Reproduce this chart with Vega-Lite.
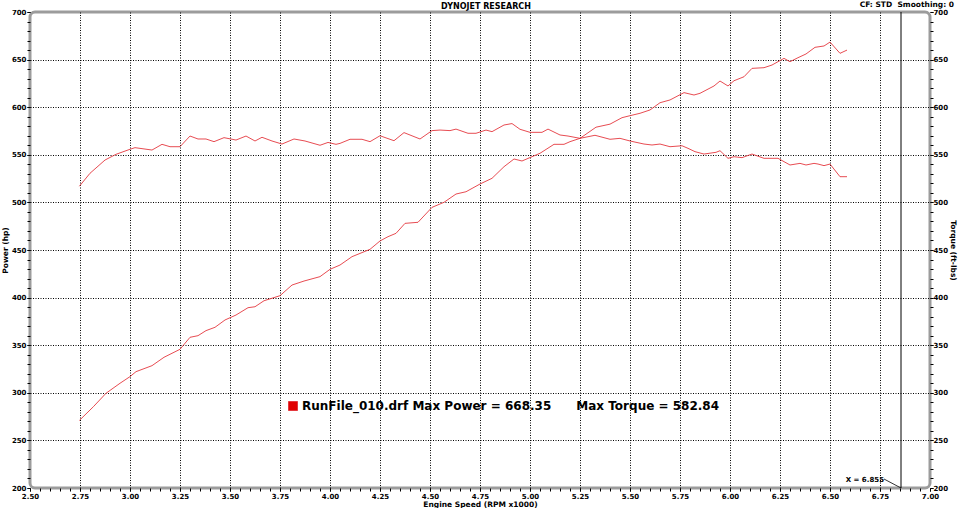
{
  "$schema": "https://vega.github.io/schema/vega-lite/v6.json",
  "width": 900,
  "height": 476,
  "autosize": {"type": "none"},
  "padding": {"left": 30, "top": 12, "right": 30, "bottom": 20},
  "background": "#ffffff",
  "datasets": {
    "power": [
      {"rpm": 2.747, "value": 271}, {"rpm": 2.817, "value": 285.4}, {"rpm": 2.88, "value": 299.5}, {"rpm": 2.95, "value": 310},
      {"rpm": 3.0, "value": 317}, {"rpm": 3.03, "value": 322.2}, {"rpm": 3.11, "value": 328.5}, {"rpm": 3.17, "value": 337.3},
      {"rpm": 3.25, "value": 345.7}, {"rpm": 3.3, "value": 358.3}, {"rpm": 3.34, "value": 360}, {"rpm": 3.38, "value": 365.3},
      {"rpm": 3.425, "value": 368.8}, {"rpm": 3.475, "value": 376.5}, {"rpm": 3.53, "value": 381.7}, {"rpm": 3.59, "value": 389.4},
      {"rpm": 3.625, "value": 390.4}, {"rpm": 3.67, "value": 396.7}, {"rpm": 3.75, "value": 402}, {"rpm": 3.81, "value": 413.2},
      {"rpm": 3.87, "value": 417.4}, {"rpm": 3.95, "value": 422}, {"rpm": 4.0, "value": 429.7}, {"rpm": 4.05, "value": 434.2},
      {"rpm": 4.11, "value": 443}, {"rpm": 4.2, "value": 450.7}, {"rpm": 4.25, "value": 459.5}, {"rpm": 4.29, "value": 464},
      {"rpm": 4.33, "value": 467.5}, {"rpm": 4.375, "value": 478}, {"rpm": 4.44, "value": 479.1}, {"rpm": 4.51, "value": 494.8},
      {"rpm": 4.57, "value": 500.1}, {"rpm": 4.63, "value": 508.8}, {"rpm": 4.68, "value": 511.2}, {"rpm": 4.75, "value": 519.3},
      {"rpm": 4.81, "value": 525.3}, {"rpm": 4.87, "value": 537.5}, {"rpm": 4.92, "value": 545.6}, {"rpm": 4.96, "value": 543.5},
      {"rpm": 5.05, "value": 551.6}, {"rpm": 5.12, "value": 561}, {"rpm": 5.17, "value": 561}, {"rpm": 5.2, "value": 563.8},
      {"rpm": 5.25, "value": 567.3}, {"rpm": 5.33, "value": 579}, {"rpm": 5.4, "value": 582.2}, {"rpm": 5.46, "value": 589},
      {"rpm": 5.5, "value": 591.1}, {"rpm": 5.55, "value": 593.6}, {"rpm": 5.6, "value": 597.1}, {"rpm": 5.65, "value": 604.7},
      {"rpm": 5.7, "value": 607.6}, {"rpm": 5.77, "value": 615.3}, {"rpm": 5.82, "value": 612.8}, {"rpm": 5.85, "value": 614.6},
      {"rpm": 5.92, "value": 622.3}, {"rpm": 5.95, "value": 627.5}, {"rpm": 5.99, "value": 622.3}, {"rpm": 6.02, "value": 627.8},
      {"rpm": 6.07, "value": 632}, {"rpm": 6.11, "value": 640.8}, {"rpm": 6.17, "value": 641.5}, {"rpm": 6.21, "value": 644.3},
      {"rpm": 6.24, "value": 647.8}, {"rpm": 6.27, "value": 651.3}, {"rpm": 6.3, "value": 647.8}, {"rpm": 6.34, "value": 652},
      {"rpm": 6.38, "value": 655.9}, {"rpm": 6.425, "value": 662.9}, {"rpm": 6.47, "value": 664.3}, {"rpm": 6.5, "value": 668.4},
      {"rpm": 6.55, "value": 656.6}, {"rpm": 6.585, "value": 660}
    ],
    "torque": [
      {"rpm": 2.747, "value": 517}, {"rpm": 2.8, "value": 530.6}, {"rpm": 2.875, "value": 544.5}, {"rpm": 2.93, "value": 550.5},
      {"rpm": 3.0, "value": 555.8}, {"rpm": 3.025, "value": 557.5}, {"rpm": 3.11, "value": 555}, {"rpm": 3.16, "value": 561},
      {"rpm": 3.2, "value": 558.5}, {"rpm": 3.25, "value": 558.5}, {"rpm": 3.3, "value": 569.7}, {"rpm": 3.34, "value": 566.6},
      {"rpm": 3.38, "value": 566.6}, {"rpm": 3.42, "value": 563.8}, {"rpm": 3.47, "value": 568}, {"rpm": 3.53, "value": 565.5},
      {"rpm": 3.58, "value": 569.7}, {"rpm": 3.625, "value": 564.5}, {"rpm": 3.66, "value": 568.4}, {"rpm": 3.71, "value": 564.5},
      {"rpm": 3.76, "value": 561.3}, {"rpm": 3.82, "value": 566.6}, {"rpm": 3.875, "value": 564.5}, {"rpm": 3.95, "value": 560},
      {"rpm": 3.99, "value": 563}, {"rpm": 4.03, "value": 561}, {"rpm": 4.05, "value": 562}, {"rpm": 4.1, "value": 566.3},
      {"rpm": 4.16, "value": 566.3}, {"rpm": 4.2, "value": 563.8}, {"rpm": 4.25, "value": 570}, {"rpm": 4.32, "value": 564.8},
      {"rpm": 4.37, "value": 573.3}, {"rpm": 4.45, "value": 566.6}, {"rpm": 4.51, "value": 575.4}, {"rpm": 4.55, "value": 576},
      {"rpm": 4.6, "value": 575.4}, {"rpm": 4.63, "value": 577}, {"rpm": 4.69, "value": 572.6}, {"rpm": 4.73, "value": 572.6},
      {"rpm": 4.78, "value": 576}, {"rpm": 4.81, "value": 574.3}, {"rpm": 4.87, "value": 581.3}, {"rpm": 4.91, "value": 582.8},
      {"rpm": 4.95, "value": 576.8}, {"rpm": 5.0, "value": 573.6}, {"rpm": 5.06, "value": 573.6}, {"rpm": 5.09, "value": 577},
      {"rpm": 5.15, "value": 570.8}, {"rpm": 5.19, "value": 569.7}, {"rpm": 5.25, "value": 567.3}, {"rpm": 5.325, "value": 570.5},
      {"rpm": 5.4, "value": 566.3}, {"rpm": 5.45, "value": 567.3}, {"rpm": 5.5, "value": 564.5}, {"rpm": 5.57, "value": 561.3},
      {"rpm": 5.61, "value": 560.3}, {"rpm": 5.65, "value": 561.3}, {"rpm": 5.7, "value": 558.5}, {"rpm": 5.76, "value": 559.5},
      {"rpm": 5.79, "value": 556.8}, {"rpm": 5.825, "value": 553.3}, {"rpm": 5.87, "value": 550.8}, {"rpm": 5.93, "value": 552.6},
      {"rpm": 5.95, "value": 554.3}, {"rpm": 5.99, "value": 546.3}, {"rpm": 6.02, "value": 548}, {"rpm": 6.06, "value": 547},
      {"rpm": 6.11, "value": 550.8}, {"rpm": 6.17, "value": 546.3}, {"rpm": 6.24, "value": 546.3}, {"rpm": 6.3, "value": 539.3},
      {"rpm": 6.35, "value": 541}, {"rpm": 6.38, "value": 539.3}, {"rpm": 6.42, "value": 541}, {"rpm": 6.44, "value": 540.3},
      {"rpm": 6.47, "value": 538.6}, {"rpm": 6.5, "value": 540.3}, {"rpm": 6.55, "value": 527}, {"rpm": 6.585, "value": 527}
    ],
    "cursor": [{"cursor": 6.855, "label": "X = 6.855"}],
    "header": [{"label": "DYNOJET RESEARCH"}],
    "settings": [{"label": "CF: STD\u00a0\u00a0Smoothing: 0"}]
  },
  "resolve": {"axis": {"x": "independent", "y": "independent"}},
  "layer": [
    {
      "data": {"name": "power"},
      "mark": {"type": "line", "strokeWidth": 0.9},
      "encoding": {
        "x": {
          "field": "rpm", "type": "quantitative",
          "scale": {"domain": [2.5, 7.0], "nice": false, "zero": false},
          "axis": {
            "orient": "bottom",
            "values": [2.5, 2.75, 3, 3.25, 3.5, 3.75, 4, 4.25, 4.5, 4.75, 5, 5.25, 5.5, 5.75, 6, 6.25, 6.5, 6.75, 7],
            "format": ".2f", "title": "Engine Speed (RPM x1000)", "grid": true,
            "gridOpacity": {"condition": {"test": "datum.value <= 2.5 || datum.value >= 7", "value": 0}, "value": 1},
            "labelPadding": 1, "titlePadding": 1, "labelFlush": false, "labelOverlap": false
          }
        },
        "y": {
          "field": "value", "type": "quantitative",
          "scale": {"domain": [200, 700], "nice": false, "zero": false},
          "axis": {
            "orient": "left",
            "values": [200, 250, 300, 350, 400, 450, 500, 550, 600, 650, 700],
            "title": "Power (hp)", "grid": true,
            "gridOpacity": {"condition": {"test": "datum.value <= 200 || datum.value >= 700", "value": 0}, "value": 1},
            "labelPadding": 1, "titlePadding": 2, "labelFlush": false, "labelOverlap": false
          }
        },
        "color": {
          "datum": "RunFile_010.drf Max Power = 668.35\u00a0\u00a0\u00a0\u00a0\u00a0 Max Torque = 582.84",
          "scale": {"range": ["#e4383e"]},
          "legend": {
            "orient": "none", "legendX": 257, "legendY": 388, "title": null, "padding": 0,
            "symbolType": "square", "symbolSize": 81, "symbolFillColor": "#e00000",
            "symbolStrokeColor": "#8a0000", "symbolStrokeWidth": 1, "symbolOpacity": 1,
            "labelFont": "DejaVu Sans", "labelFontSize": 12, "labelFontWeight": "bold",
            "labelColor": "#000000", "labelLimit": 0, "labelOffset": 3
          }
        }
      }
    },
    {
      "data": {"name": "torque"},
      "mark": {"type": "line", "strokeWidth": 0.9},
      "encoding": {
        "x": {"field": "rpm", "type": "quantitative", "axis": null},
        "y": {
          "field": "value", "type": "quantitative",
          "axis": {
            "orient": "right",
            "values": [200, 250, 300, 350, 400, 450, 500, 550, 600, 650, 700],
            "title": "Torque (ft-lbs)", "grid": false,
            "labelPadding": 0, "titlePadding": 1, "labelFlush": false, "labelOverlap": false
          }
        },
        "color": {"datum": "RunFile_010.drf Max Power = 668.35\u00a0\u00a0\u00a0\u00a0\u00a0 Max Torque = 582.84"}
      }
    },
    {
      "data": {"name": "power"},
      "mark": {"type": "point", "opacity": 0},
      "encoding": {
        "x": {
          "field": "rpm", "type": "quantitative",
          "axis": {
            "orient": "bottom", "labels": false, "title": null, "grid": false,
            "values": [2.5,2.55,2.6,2.65,2.7,2.75,2.8,2.85,2.9,2.95,3,3.05,3.1,3.15,3.2,3.25,3.3,3.35,3.4,3.45,3.5,3.55,3.6,3.65,3.7,3.75,3.8,3.85,3.9,3.95,4,4.05,4.1,4.15,4.2,4.25,4.3,4.35,4.4,4.45,4.5,4.55,4.6,4.65,4.7,4.75,4.8,4.85,4.9,4.95,5,5.05,5.1,5.15,5.2,5.25,5.3,5.35,5.4,5.45,5.5,5.55,5.6,5.65,5.7,5.75,5.8,5.85,5.9,5.95,6,6.05,6.1,6.15,6.2,6.25,6.3,6.35,6.4,6.45,6.5,6.55,6.6,6.65,6.7,6.75,6.8,6.85,6.9,6.95,7]
          }
        },
        "y": {
          "field": "value", "type": "quantitative",
          "axis": {
            "orient": "left", "labels": false, "title": null, "grid": false,
            "values": [200,210,220,230,240,250,260,270,280,290,300,310,320,330,340,350,360,370,380,390,400,410,420,430,440,450,460,470,480,490,500,510,520,530,540,550,560,570,580,590,600,610,620,630,640,650,660,670,680,690,700]
          }
        }
      }
    },
    {
      "data": {"name": "torque"},
      "mark": {"type": "point", "opacity": 0},
      "encoding": {
        "x": {"field": "rpm", "type": "quantitative", "axis": null},
        "y": {
          "field": "value", "type": "quantitative",
          "axis": {
            "orient": "right", "labels": false, "title": null, "grid": false,
            "values": [200,210,220,230,240,250,260,270,280,290,300,310,320,330,340,350,360,370,380,390,400,410,420,430,440,450,460,470,480,490,500,510,520,530,540,550,560,570,580,590,600,610,620,630,640,650,660,670,680,690,700]
          }
        }
      }
    },
    {
      "data": {"name": "cursor"},
      "mark": {"type": "rule", "color": "#000000", "strokeWidth": 1},
      "encoding": {
        "x": {"field": "cursor", "type": "quantitative", "axis": null}
      }
    },
    {
      "data": {"name": "cursor"},
      "mark": {"type": "rule", "color": "#000000", "strokeWidth": 0.8, "xOffset": -17, "yOffset": -9},
      "encoding": {
        "x": {"field": "cursor", "type": "quantitative", "axis": null},
        "x2": {"field": "cursor"},
        "y": {"datum": 200, "type": "quantitative", "axis": null},
        "y2": {"datum": 200}
      }
    },
    {
      "data": {"name": "cursor"},
      "mark": {"type": "text", "align": "right", "baseline": "alphabetic", "dx": -17, "dy": -6, "font": "DejaVu Sans", "fontSize": 7, "fontWeight": "bold", "color": "#000000"},
      "encoding": {
        "x": {"field": "cursor", "type": "quantitative", "axis": null},
        "y": {"datum": 200, "type": "quantitative", "axis": null},
        "text": {"field": "label"}
      }
    },
    {
      "data": {"name": "header"},
      "mark": {"type": "text", "align": "center", "baseline": "alphabetic", "dx": 6, "dy": -3, "font": "DejaVu Sans", "fontSize": 8, "fontWeight": "bold", "color": "#000000"},
      "encoding": {
        "x": {"datum": 4.75, "type": "quantitative", "axis": null},
        "y": {"datum": 700, "type": "quantitative", "axis": null},
        "text": {"field": "label"}
      }
    },
    {
      "data": {"name": "settings"},
      "mark": {"type": "text", "align": "right", "baseline": "alphabetic", "dx": 24, "dy": -5, "font": "DejaVu Sans", "fontSize": 7.5, "fontWeight": "bold", "color": "#000000"},
      "encoding": {
        "x": {"datum": 7.0, "type": "quantitative", "axis": null},
        "y": {"datum": 700, "type": "quantitative", "axis": null},
        "text": {"field": "label"}
      }
    }
  ],
  "config": {
    "font": "DejaVu Sans",
    "view": {"stroke": "#9c9c9c", "strokeWidth": 3, "cornerRadius": 5},
    "axis": {
      "labelFont": "DejaVu Sans", "labelFontSize": 7, "labelFontWeight": "bold", "labelColor": "#000000",
      "titleFont": "DejaVu Sans", "titleFontSize": 7.5, "titleFontWeight": "bold", "titleColor": "#000000",
      "domain": false, "tickColor": "#000000", "tickSize": 3, "tickWidth": 1,
      "gridColor": "#000000", "gridDash": [1, 1.5], "gridWidth": 1
    }
  }
}
